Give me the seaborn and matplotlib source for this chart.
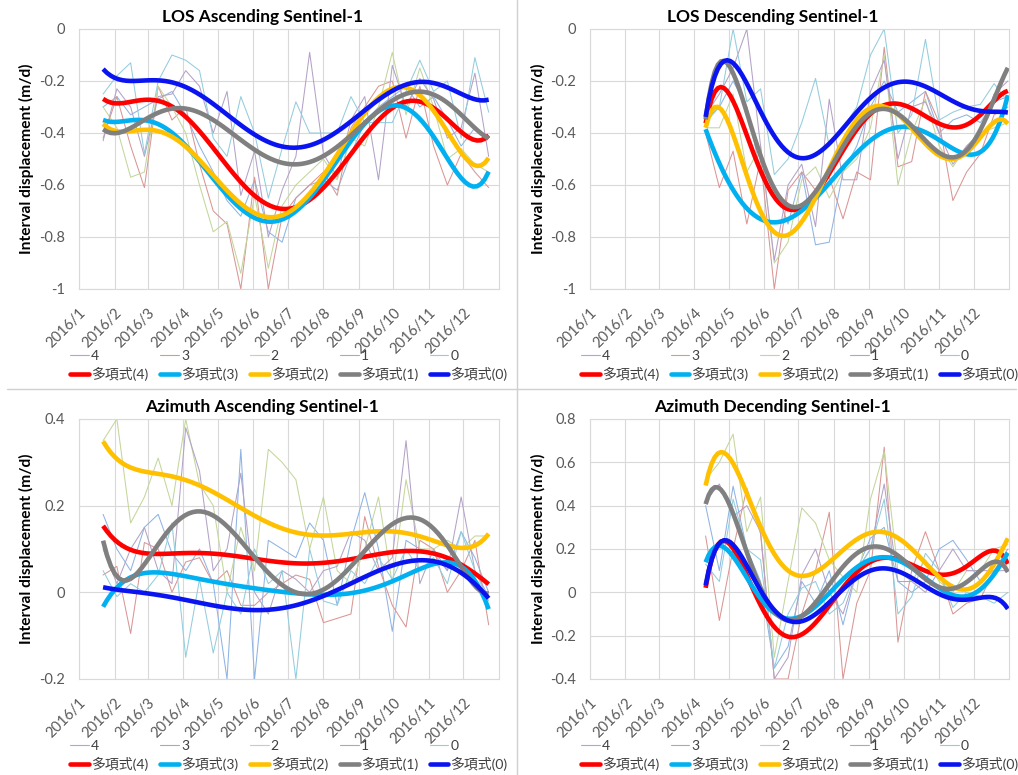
import numpy as np
import pandas as pd
import matplotlib
matplotlib.use("Agg")
import matplotlib.pyplot as plt
from matplotlib.lines import Line2D
from matplotlib.ticker import FuncFormatter
import seaborn as sns

# ---- acquisition schedule (Sentinel-1, 12-day repeat) ----
year_start = pd.Timestamp("2016-01-01")
asc_dates = pd.date_range("2016-01-22", "2016-12-23", freq="12D")
desc_dates = pd.date_range("2016-04-11", "2016-12-31", freq="12D")
month_starts = pd.date_range("2016-01-01", "2016-12-01", freq="MS")
month_labels = [f"2016/{m}" for m in range(1, 13)]

series_names = ["4", "3", "2", "1", "0"]
trend_names = ["多項式(4)", "多項式(3)", "多項式(2)", "多項式(1)", "多項式(0)"]

# ---- LOS ascending: interval displacement (m/d) ----
los_asc_4 = [-0.30, -0.26, -0.33, -0.30, -0.27, -0.24, -0.33, -0.45, -0.55, -0.66, -0.72, -0.58, -0.78, -0.82, -0.65,
             -0.60, -0.58, -0.62, -0.48, -0.36, -0.30, -0.26, -0.22, -0.30, -0.26, -0.35, -0.45, -0.38, -0.42]
los_asc_3 = [-0.42, -0.26, -0.45, -0.61, -0.22, -0.35, -0.30, -0.52, -0.70, -0.75, -1.00, -0.57, -1.00, -0.72, -0.65,
             -0.60, -0.55, -0.64, -0.38, -0.30, -0.22, -0.20, -0.42, -0.22, -0.45, -0.60, -0.48, -0.55, -0.61]
los_asc_2 = [-0.30, -0.38, -0.57, -0.55, -0.22, -0.30, -0.40, -0.60, -0.78, -0.74, -0.94, -0.64, -0.92, -0.68, -0.60,
             -0.55, -0.50, -0.58, -0.42, -0.45, -0.30, -0.09, -0.33, -0.15, -0.30, -0.50, -0.46, -0.52, -0.55]
los_asc_1 = [-0.43, -0.23, -0.30, -0.49, -0.26, -0.25, -0.16, -0.22, -0.40, -0.24, -0.64, -0.47, -0.80, -0.62, -0.49,
             -0.09, -0.48, -0.57, -0.35, -0.26, -0.58, -0.14, -0.30, -0.19, -0.27, -0.42, -0.38, -0.17, -0.49]
los_asc_0 = [-0.25, -0.18, -0.13, -0.48, -0.20, -0.10, -0.12, -0.16, -0.42, -0.49, -0.26, -0.40, -0.65, -0.46, -0.28,
             -0.40, -0.40, -0.40, -0.26, -0.36, -0.36, -0.36, -0.24, -0.12, -0.24, -0.20, -0.42, -0.11, -0.32]

los_asc_trend_4 = [-0.275, -0.28, -0.275, -0.27, -0.28, -0.30, -0.335, -0.40, -0.47, -0.53, -0.585, -0.625, -0.665,
                   -0.69, -0.685, -0.655, -0.62, -0.56, -0.49, -0.42, -0.35, -0.29, -0.265, -0.275, -0.30, -0.36,
                   -0.405, -0.425, -0.405]
los_asc_trend_3 = [-0.355, -0.35, -0.345, -0.355, -0.37, -0.405, -0.455, -0.51, -0.565, -0.625, -0.685, -0.735, -0.75,
                   -0.735, -0.70, -0.65, -0.585, -0.51, -0.43, -0.36, -0.305, -0.285, -0.30, -0.36, -0.43, -0.505,
                   -0.56, -0.59, -0.56]
los_asc_trend_2 = [-0.37, -0.385, -0.39, -0.39, -0.40, -0.42, -0.45, -0.495, -0.56, -0.62, -0.675, -0.715, -0.73,
                   -0.715, -0.68, -0.625, -0.565, -0.48, -0.40, -0.33, -0.27, -0.235, -0.225, -0.25, -0.30, -0.39,
                   -0.49, -0.53, -0.49]
los_asc_trend_1 = [-0.395, -0.39, -0.37, -0.35, -0.33, -0.315, -0.31, -0.325, -0.35, -0.38, -0.42, -0.455, -0.49,
                   -0.515, -0.525, -0.52, -0.50, -0.46, -0.405, -0.355, -0.305, -0.27, -0.25, -0.245, -0.255, -0.285,
                   -0.33, -0.38, -0.42]
los_asc_trend_0 = [-0.16, -0.185, -0.195, -0.195, -0.20, -0.21, -0.23, -0.255, -0.29, -0.325, -0.365, -0.40, -0.43,
                   -0.45, -0.455, -0.45, -0.435, -0.405, -0.36, -0.31, -0.265, -0.23, -0.21, -0.205, -0.21, -0.23,
                   -0.25, -0.27, -0.27]

# ---- LOS descending ----
los_desc_4 = [-0.35, -0.30, -0.20, -0.30, -0.55, -0.60, -0.75, -0.55, -0.83, -0.82, -0.55, -0.45, -0.30, -0.20, -0.32,
              -0.28, -0.24, -0.40, -0.35, -0.33, -0.36, -0.28, -0.26]
los_desc_3 = [-0.40, -0.61, -0.47, -0.75, -0.50, -1.00, -0.62, -0.55, -0.62, -0.57, -0.73, -0.55, -0.58, -0.07, -0.53,
              -0.51, -0.24, -0.36, -0.66, -0.55, -0.48, -0.33, -0.30]
los_desc_2 = [-0.38, -0.38, -0.25, -0.55, -0.45, -0.90, -0.82, -0.58, -0.53, -0.65, -0.55, -0.50, -0.38, -0.10, -0.60,
              -0.40, -0.27, -0.45, -0.53, -0.45, -0.40, -0.38, -0.36]
los_desc_1 = [-0.33, -0.25, -0.15, 0.00, -0.45, -0.89, -0.60, -0.52, -0.76, -0.27, -0.58, -0.58, -0.24, -0.12, -0.50,
              -0.30, -0.28, -0.40, -0.52, -0.45, -0.40, -0.25, -0.20]
los_desc_0 = [-0.36, -0.30, 0.00, -0.28, -0.23, -0.56, -0.50, -0.36, -0.19, -0.45, -0.38, -0.30, -0.10, 0.00, -0.40,
              -0.33, -0.04, -0.35, -0.32, -0.30, -0.29, -0.21, -0.28]

los_desc_trend_4 = [-0.335, -0.275, -0.29, -0.385, -0.515, -0.63, -0.69, -0.705, -0.67, -0.58, -0.465, -0.36, -0.30,
                    -0.28, -0.29, -0.315, -0.35, -0.375, -0.38, -0.36, -0.325, -0.27, -0.245]
los_desc_trend_3 = [-0.39, -0.51, -0.615, -0.69, -0.74, -0.745, -0.735, -0.695, -0.645, -0.59, -0.53, -0.48, -0.43,
                    -0.395, -0.38, -0.38, -0.40, -0.43, -0.455, -0.47, -0.47, -0.43, -0.245]
los_desc_trend_2 = [-0.37, -0.335, -0.385, -0.545, -0.71, -0.78, -0.80, -0.76, -0.655, -0.53, -0.41, -0.335, -0.30,
                    -0.305, -0.345, -0.40, -0.45, -0.475, -0.48, -0.46, -0.425, -0.385, -0.35]
los_desc_trend_1 = [-0.325, -0.175, -0.18, -0.29, -0.465, -0.605, -0.685, -0.695, -0.655, -0.555, -0.44, -0.35,
                    -0.305, -0.30, -0.33, -0.39, -0.445, -0.48, -0.48, -0.455, -0.395, -0.27, -0.15]
los_desc_trend_0 = [-0.325, -0.165, -0.14, -0.20, -0.30, -0.40, -0.475, -0.51, -0.50, -0.45, -0.38, -0.31, -0.25,
                    -0.22, -0.205, -0.21, -0.23, -0.25, -0.28, -0.30, -0.31, -0.315, -0.325]

# ---- Azimuth ascending ----
az_asc_4 = [0.18, 0.10, 0.05, 0.15, 0.18, 0.09, 0.05, 0.10, 0.02, -0.20, 0.33, -0.20, 0.12, 0.10, 0.08, 0.16, 0.12,
            -0.03, 0.12, 0.23, 0.10, -0.09, 0.12, 0.10, 0.09, 0.05, 0.14, 0.08, 0.00]
az_asc_3 = [0.04, 0.06, -0.095, 0.115, 0.10, 0.00, 0.07, 0.08, 0.02, 0.05, -0.03, -0.03, 0.00, 0.02, 0.04, 0.03,
            -0.07, -0.06, -0.05, 0.175, 0.06, -0.03, -0.08, 0.12, 0.10, 0.00, 0.05, 0.12, -0.075]
az_asc_2 = [0.35, 0.40, 0.16, 0.22, 0.31, 0.20, 0.40, 0.25, 0.20, 0.00, 0.15, 0.05, 0.33, 0.30, 0.26, 0.10, 0.22,
            0.05, 0.02, 0.10, 0.22, 0.02, 0.26, 0.10, 0.10, 0.12, 0.10, 0.13, 0.13]
az_asc_1 = [0.10, 0.02, 0.10, 0.15, 0.05, 0.02, 0.38, 0.28, 0.05, 0.10, 0.275, 0.00, -0.05, 0.05, 0.03, 0.00, 0.05,
            0.06, 0.14, 0.12, 0.05, 0.08, 0.35, 0.02, 0.10, 0.05, 0.22, 0.05, -0.01]
az_asc_0 = [0.05, -0.01, 0.02, 0.00, 0.04, 0.16, -0.15, 0.03, -0.14, 0.00, -0.05, 0.10, 0.02, 0.05, -0.20, 0.10,
            -0.02, -0.03, 0.05, 0.02, 0.08, 0.03, 0.10, 0.05, 0.08, 0.02, 0.14, 0.05, -0.02]

az_asc_trend_4 = [0.152, 0.12, 0.098, 0.089, 0.087, 0.089, 0.091, 0.092, 0.091, 0.087, 0.082, 0.075, 0.072, 0.069,
                  0.068, 0.066, 0.068, 0.072, 0.077, 0.083, 0.088, 0.092, 0.095, 0.095, 0.089, 0.079, 0.064, 0.045,
                  0.018]
az_asc_trend_3 = [-0.036, 0.014, 0.037, 0.045, 0.045, 0.041, 0.035, 0.029, 0.024, 0.019, 0.015, 0.012, 0.008, 0.003,
                  -0.002, -0.005, -0.008, -0.008, -0.005, 0.002, 0.014, 0.028, 0.043, 0.056, 0.066, 0.068, 0.056,
                  0.025, -0.036]
az_asc_trend_2 = [0.348, 0.31, 0.287, 0.277, 0.272, 0.268, 0.26, 0.248, 0.233, 0.215, 0.195, 0.175, 0.158, 0.145,
                  0.137, 0.133, 0.133, 0.135, 0.137, 0.139, 0.141, 0.139, 0.135, 0.128, 0.118, 0.108, 0.105, 0.11,
                  0.133]
az_asc_trend_1 = [0.125, 0.033, 0.023, 0.06, 0.114, 0.16, 0.185, 0.19, 0.18, 0.148, 0.11, 0.072, 0.041, 0.018,
                  0.006, 0.003, 0.008, 0.028, 0.06, 0.098, 0.133, 0.156, 0.165, 0.164, 0.145, 0.11, 0.064, 0.022,
                  -0.009]
az_asc_trend_0 = [0.012, 0.006, 0.002, -0.002, -0.005, -0.011, -0.018, -0.025, -0.031, -0.035, -0.038, -0.04, -0.04,
                  -0.038, -0.031, -0.021, -0.009, 0.006, 0.022, 0.037, 0.05, 0.062, 0.069, 0.073, 0.072, 0.062,
                  0.045, 0.022, -0.015]

# ---- Azimuth descending ----
az_desc_4 = [0.40, 0.10, 0.49, 0.20, 0.05, -0.35, -0.25, 0.05, -0.05, 0.10, -0.15, 0.10, 0.25, 0.30, 0.05, 0.00,
             0.05, 0.20, 0.24, 0.15, 0.05, 0.10, 0.15]
az_desc_3 = [0.26, -0.13, 0.20, 0.48, 0.27, -0.40, -0.40, -0.10, 0.10, 0.37, -0.40, -0.05, 0.10, 0.67, -0.23, 0.10,
             0.28, 0.10, -0.10, -0.05, -0.03, 0.10, 0.20]
az_desc_2 = [0.52, 0.60, 0.73, 0.28, 0.44, -0.30, 0.05, 0.39, 0.32, 0.15, 0.07, 0.00, 0.43, 0.65, 0.10, 0.05, 0.15,
             0.05, 0.00, 0.10, 0.10, 0.20, 0.22]
az_desc_1 = [0.42, 0.50, 0.35, 0.40, 0.28, -0.40, -0.30, 0.08, 0.20, 0.00, -0.10, 0.10, 0.20, 0.50, 0.05, 0.05,
             0.00, 0.10, 0.20, 0.10, 0.10, 0.10, 0.10]
az_desc_0 = [0.13, 0.05, 0.43, 0.20, 0.15, -0.35, -0.10, 0.02, 0.05, -0.10, -0.05, 0.10, 0.20, 0.43, -0.10, -0.02,
             0.18, 0.10, -0.07, 0.00, -0.02, -0.05, 0.00]

az_desc_trend_4 = [0.035, 0.195, 0.205, 0.105, -0.049, -0.172, -0.21, -0.203, -0.142, -0.065, 0.028, 0.105, 0.143,
                   0.158, 0.151, 0.123, 0.092, 0.082, 0.089, 0.128, 0.171, 0.182, 0.135]
az_desc_trend_3 = [0.143, 0.195, 0.18, 0.09, -0.034, -0.111, -0.134, -0.118, -0.065, 0.012, 0.082, 0.128, 0.143,
                   0.143, 0.135, 0.105, 0.066, 0.028, 0.005, -0.006, 0.005, 0.058, 0.197]
az_desc_trend_2 = [0.52, 0.60, 0.575, 0.475, 0.335, 0.205, 0.10, 0.05, 0.06, 0.12, 0.197, 0.258, 0.295, 0.295,
                   0.258, 0.197, 0.123, 0.058, 0.015, 0.012, 0.058, 0.15, 0.235]
az_desc_trend_1 = [0.44, 0.43, 0.335, 0.2, 0.058, -0.049, -0.114, -0.126, -0.095, -0.01, 0.095, 0.20, 0.255,
                   0.25, 0.19, 0.10, 0.025, -0.005, 0.005, 0.066, 0.125, 0.145, 0.082]
az_desc_trend_0 = [0.043, 0.205, 0.22, 0.135, 0.012, -0.08, -0.126, -0.137, -0.111, -0.057, 0.012, 0.074, 0.112,
                   0.12, 0.097, 0.058, 0.02, -0.011, -0.026, -0.031, -0.022, -0.026, -0.077]

# ---- styling ----
thin_colors = ["#8EB4E3", "#D99694", "#C3D69B", "#B3A2C7", "#93CDDD"]
thick_colors = ["#FF0000", "#00B0F0", "#FFC000", "#808080", "#0A14F0"]
grid_color = "#D9D9D9"
tick_color = "#595959"

sns.set_style("white")
plt.rcParams["font.family"] = ["Lato", "Noto Sans CJK JP", "DejaVu Sans"]
plt.rcParams["axes.unicode_minus"] = False

W, H = 1018, 775
fig = plt.figure(figsize=(W / 100, H / 100), dpi=100)


def px_axes(left, top, right, bottom):
    return fig.add_axes([left / W, 1 - bottom / H, (right - left) / W, (bottom - top) / H])


def day_of_year(dates):
    return np.asarray((dates - year_start).days, dtype=float)


month_days = day_of_year(month_starts)


def tick_text(v, _pos):
    return "0" if abs(v) < 1e-9 else f"{v:g}"


def draw_panel(ax, title, dates, raw, trends, ylim, ystep):
    x = day_of_year(dates)
    for vals, col in zip(raw, thin_colors):
        sns.lineplot(x=x, y=vals, ax=ax, color=col, lw=0.75, legend=False)
    for vals, col in zip(trends, thick_colors):
        sns.regplot(x=x, y=np.asarray(vals), ax=ax, order=6, ci=None, scatter=False, truncate=True,
                    line_kws=dict(color=col, lw=3.3, solid_capstyle="butt"))

    ax.set_xlim(0, 366)
    ax.set_ylim(*ylim)
    ax.set_xticks(month_days)
    ax.set_xticklabels(month_labels, rotation=45, ha="right", va="top", rotation_mode="anchor")
    yt = np.round(np.arange(ylim[0], ylim[1] + ystep / 2, ystep), 6)
    ax.set_yticks(yt)
    ax.yaxis.set_major_formatter(FuncFormatter(tick_text))
    ax.grid(True, color=grid_color, lw=0.8)
    ax.set_axisbelow(True)
    for sp in ax.spines.values():
        sp.set_color(grid_color)
        sp.set_linewidth(0.8)
    ax.tick_params(axis="both", length=0, colors=tick_color, labelsize=10.5)
    ax.tick_params(axis="x", pad=12)
    ax.tick_params(axis="y", pad=10)
    ax.set_xlabel("")
    ax.set_ylabel("Interval displacement (m/d)", fontsize=11.2, fontweight="bold", color="black")
    ax.yaxis.set_label_coords(-0.106, 0.5)
    ax.set_title(title, fontsize=12.5, fontweight="bold", color="black", x=0.436, pad=5)

    handles, labels = [], []
    for i in range(5):
        handles.append(Line2D([], [], color=thin_colors[i], lw=0.8))
        labels.append(series_names[i])
        handles.append(Line2D([], [], color=thick_colors[i], lw=3.3))
        labels.append(trend_names[i])
    ax.legend(handles, labels, loc="upper center", bbox_to_anchor=(0.5, -0.235), ncol=5, frameon=False,
              fontsize=10, labelcolor="#404040", handlelength=1.35, handletextpad=0.15, columnspacing=0.85,
              labelspacing=0.32, borderpad=0, borderaxespad=0)


ax1 = px_axes(79, 29, 499, 289)
ax2 = px_axes(590, 29, 1009, 289)
ax3 = px_axes(79, 419, 499, 679)
ax4 = px_axes(590, 419, 1009, 679)

draw_panel(ax1, "LOS Ascending Sentinel-1", asc_dates,
           [los_asc_4, los_asc_3, los_asc_2, los_asc_1, los_asc_0],
           [los_asc_trend_4, los_asc_trend_3, los_asc_trend_2, los_asc_trend_1, los_asc_trend_0],
           (-1.0, 0.0), 0.2)
draw_panel(ax2, "LOS Descending Sentinel-1", desc_dates,
           [los_desc_4, los_desc_3, los_desc_2, los_desc_1, los_desc_0],
           [los_desc_trend_4, los_desc_trend_3, los_desc_trend_2, los_desc_trend_1, los_desc_trend_0],
           (-1.0, 0.0), 0.2)
draw_panel(ax3, "Azimuth Ascending Sentinel-1", asc_dates,
           [az_asc_4, az_asc_3, az_asc_2, az_asc_1, az_asc_0],
           [az_asc_trend_4, az_asc_trend_3, az_asc_trend_2, az_asc_trend_1, az_asc_trend_0],
           (-0.2, 0.4), 0.2)
draw_panel(ax4, "Azimuth Decending Sentinel-1", desc_dates,
           [az_desc_4, az_desc_3, az_desc_2, az_desc_1, az_desc_0],
           [az_desc_trend_4, az_desc_trend_3, az_desc_trend_2, az_desc_trend_1, az_desc_trend_0],
           (-0.4, 0.8), 0.2)

# panel separators
fig.add_artist(Line2D([7 / W, 1016 / W], [1 - 389 / H, 1 - 389 / H], transform=fig.transFigure,
                      color="#D0D0D0", lw=1.0))
fig.add_artist(Line2D([517 / W, 517 / W], [0, 1], transform=fig.transFigure, color="#D0D0D0", lw=1.0))

fig.savefig("out.png", dpi=100, facecolor="white")
